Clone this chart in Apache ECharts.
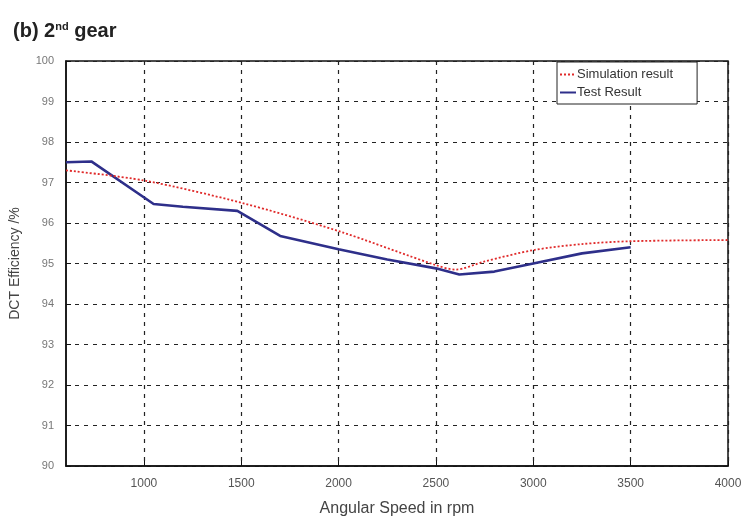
<!DOCTYPE html>
<html><head><meta charset="utf-8">
<script src="https://cdn.jsdelivr.net/npm/echarts@6/dist/echarts.min.js"></script>
<style>html,body{margin:0;padding:0;background:#fff}#c{width:755px;height:525px}</style>
</head><body><div id="c"></div>
<script>
const xTicks = [1000, 1500, 2000, 2500, 3000, 3500, 4000];
const yTicks = [90, 91, 92, 93, 94, 95, 96, 97, 98, 99, 100];
const simRpm = [600, 1000, 1500, 2000, 2500, 2600, 2750, 3000, 3250, 3500, 4000];
const simEff = [97.3, 97.05, 96.5, 95.8, 94.96, 94.85, 95.05, 95.33, 95.48, 95.55, 95.58];
const testRpm = [600, 730, 1050, 1200, 1480, 1700, 2000, 2250, 2500, 2620, 2800, 3000, 3250, 3500];
const testEff = [97.5, 97.52, 96.47, 96.4, 96.3, 95.68, 95.35, 95.1, 94.88, 94.73, 94.8, 95.0, 95.25, 95.4];
const seriesNames = ['Simulation result', 'Test Result'];

const chart = echarts.init(document.getElementById('c'));
chart.setOption({
  animation: false,
  title: {
    text: '{b|(b) 2}{s|nd}{b| gear}',
    left: 8, top: 16,
    textStyle: { rich: {
      b: { fontFamily: 'Liberation Sans', fontWeight: 'bold', fontSize: 20, color: '#222', verticalAlign: 'bottom' },
      s: { fontFamily: 'Liberation Sans', fontWeight: 'bold', fontSize: 11, color: '#222', verticalAlign: 'top', padding: [0,0,9,0] }
    }}
  },
  grid: { left: 65, right: 27, top: 61, bottom: 59, show: true, borderColor: '#111', borderWidth: 1.5, backgroundColor: '#fff' },
  legend: {
    left: 557, top: 62, orient: 'vertical', itemGap: 5, itemWidth: 16, itemHeight: 10,
    backgroundColor: '#fff', borderColor: '#222', borderWidth: 1, padding: [6, 24, 5, 2],
    itemStyle: { opacity: 0 },
    textStyle: { fontFamily: 'Liberation Sans', fontSize: 13, color: '#333', padding: [0, 0, 0, -4] },
    data: seriesNames
  },
  xAxis: {
    type: 'value', min: 600, max: 4000,
    name: 'Angular Speed in rpm', nameLocation: 'middle', nameGap: 35,
    nameTextStyle: { fontFamily: 'Liberation Sans', fontSize: 16, color: '#444' },
    axisLine: { show: true, lineStyle: { color: '#111', width: 1.5 } },
    axisTick: { show: true, inside: true, length: 5, lineStyle: { color: '#111' }, customValues: xTicks },
    axisLabel: { customValues: xTicks, fontFamily: 'Liberation Sans', fontSize: 12, color: '#555', margin: 12,
      formatter: v => String(v) },
    splitLine: { show: true, lineStyle: { color: '#222', type: [4, 5], width: 1.2 } }
  },
  yAxis: {
    type: 'value', min: 90, max: 100, interval: 1,
    name: 'DCT Efficiency /%', nameLocation: 'middle', nameGap: 44,
    nameTextStyle: { fontFamily: 'Liberation Sans', fontSize: 14, color: '#444' },
    axisLine: { show: true, lineStyle: { color: '#111', width: 1.5 } },
    axisTick: { show: true, inside: true, length: 5, lineStyle: { color: '#111' } },
    axisLabel: { fontFamily: 'Liberation Sans', fontSize: 11, color: '#777', margin: 12,
      formatter: v => yTicks.includes(v) ? String(v) : '' },
    splitLine: { show: true, lineStyle: { color: '#222', type: [4, 5], width: 1.2 } }
  },
  series: [
    { name: seriesNames[0], type: 'line', symbol: 'none', smooth: 0.3,
      data: simRpm.map((r, i) => [r, simEff[i]]),
      lineStyle: { color: '#e02a2a', width: 1.8, type: [2, 2] }, itemStyle: { color: '#e02a2a' }, z: 3 },
    { name: seriesNames[1], type: 'line', symbol: 'none',
      data: testRpm.map((r, i) => [r, testEff[i]]),
      lineStyle: { color: '#2e2f8a', width: 2.6 }, itemStyle: { color: '#2e2f8a' }, z: 2 }
  ]
});
</script></body></html>
